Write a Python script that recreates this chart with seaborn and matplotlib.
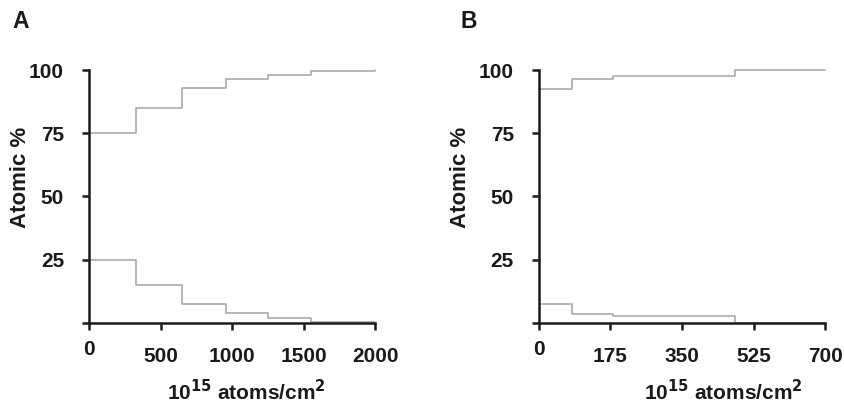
import pandas as pd
import seaborn as sns
import matplotlib.pyplot as plt
from matplotlib.transforms import ScaledTranslation

# Panel A: depth profile (steps), 10^15 atoms/cm2 vs atomic %
depth_a = [0, 325, 650, 955, 1250, 1550, 2000]
major_a = [75, 85, 93, 96.3, 98, 99.5, 100]
minor_a = [25, 15, 7.5, 3.8, 2, 0.5, 0.5]

# Panel B
depth_b = [0, 80, 180, 480, 700]
major_b = [92.5, 96.5, 97.5, 99.9, 99.9]
minor_b = [7.5, 3.5, 2.6, 0.1, 0.1]

xticks_a = [0, 500, 1000, 1500, 2000]
xticks_b = [0, 175, 350, 525, 700]
yticks = [0, 25, 50, 75, 100]
ytick_labels = ["", "25", "50", "75", "100"]

sns.set_theme(style="white")
plt.rcParams["font.family"] = ["Liberation Sans", "DejaVu Sans"]
plt.rcParams["font.weight"] = "bold"

fig = plt.figure(figsize=(8.44, 4.07), dpi=100)
ax_a = fig.add_axes([0.1055, 0.2064, 0.3389, 0.6216])
ax_b = fig.add_axes([0.6386, 0.2064, 0.3389, 0.6216])


def long_form(depth, major, minor):
    return pd.concat([
        pd.DataFrame({"depth": depth, "pct": major, "el": "major"}),
        pd.DataFrame({"depth": depth, "pct": minor, "el": "minor"}),
    ])


# (axes, data, xticks, xlabel x, ylabel x, letter, letter x px)
panels = [
    (ax_a, long_form(depth_a, major_a, minor_a), xticks_a, 0.549, -0.202, "A", 21),
    (ax_b, long_form(depth_b, major_b, minor_b), xticks_b, 0.643, -0.238, "B", 469),
]

for ax, df, xt, xlab_x, ylab_x, letter, letter_x in panels:
    sns.lineplot(data=df, x="depth", y="pct", hue="el",
                 palette=["#a3a3a3", "#a3a3a3"], drawstyle="steps-post",
                 linewidth=1.1, legend=False, ax=ax, clip_on=False, zorder=1)
    ax.set_xlim(xt[0], xt[-1])
    ax.set_ylim(0, 100)
    ax.set_xticks(xt)
    ax.set_xticklabels([str(v) for v in xt])
    ax.set_yticks(yticks)
    ax.set_yticklabels(ytick_labels)
    for side in ["top", "right"]:
        ax.spines[side].set_visible(False)
    for side in ["left", "bottom"]:
        ax.spines[side].set_color("#1a1a1a")
        ax.spines[side].set_linewidth(1.8)
        ax.spines[side].set_zorder(3)
    ax.tick_params(axis="both", direction="out", length=5, width=1.8,
                   color="#1a1a1a", labelsize=15, labelcolor="#1a1a1a")
    ax.tick_params(axis="x", pad=12, bottom=True)
    ax.tick_params(axis="y", pad=13, left=True)
    # "0" sits a bit higher than the other x labels
    first = ax.get_xticklabels()[0]
    first.set_transform(first.get_transform()
                        + ScaledTranslation(0, 5 / 72, fig.dpi_scale_trans))
    ax.set_xlabel("10$^{\\mathbf{15}}$ atoms/cm$^{\\mathbf{2}}$",
                  fontsize=15, fontweight="bold", color="#1a1a1a")
    ax.xaxis.set_label_coords(xlab_x, -0.222)
    ax.set_ylabel("Atomic %", fontsize=16, fontweight="bold", color="#1a1a1a")
    ax.yaxis.set_label_coords(ylab_x, 0.577)
    fig.text(letter_x / 844, 1 - 21 / 407, letter, fontsize=16.5,
             fontweight="bold", ha="center", va="center", color="#1a1a1a")

fig.savefig("out.png", dpi=100)
